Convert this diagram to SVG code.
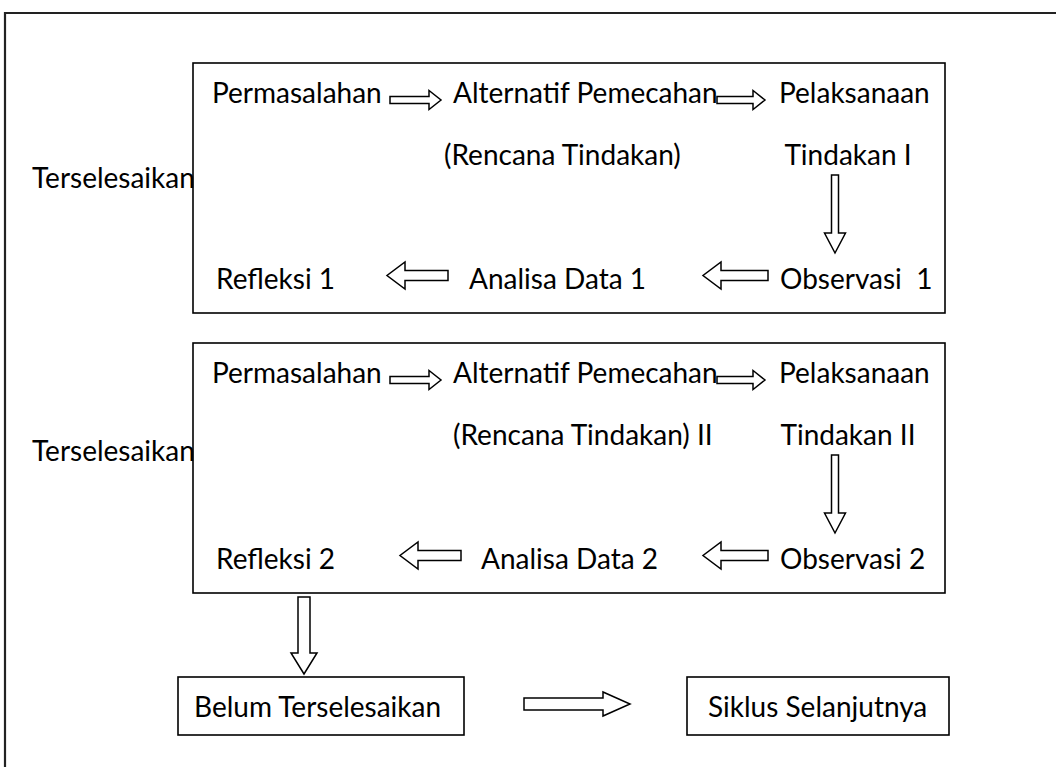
<svg xmlns="http://www.w3.org/2000/svg" width="1056" height="767" viewBox="0 0 1056 767">
<style>
text{font-family:Lato,"Liberation Sans",sans-serif;font-size:28px;fill:#000}
.box{fill:none;stroke:#000;stroke-width:1.6}
.arr{fill:#fff;stroke:#000;stroke-width:1.5;stroke-linejoin:miter}
</style>
<rect width="1056" height="767" fill="#fff"/>
<path d="M5,767 V13 H1056" fill="none" stroke="#222" stroke-width="2.2"/>
<g id="cycle1">
<rect class="box" x="193" y="63" width="752" height="250"/>
<text x="212" y="103">Permasalahan</text>
<text x="453" y="103">Alternatif Pemecahan</text>
<text x="779" y="103">Pelaksanaan</text>
<text x="444" y="165">(Rencana Tindakan)</text>
<text x="848" y="165" text-anchor="middle">Tindakan I</text>
<text x="216" y="289">Refleksi 1</text>
<text x="469" y="289">Analisa Data 1</text>
<text x="780" y="289" xml:space="preserve">Observasi  1</text>
</g>
<g id="cycle2">
<rect class="box" x="193" y="343" width="752" height="250"/>
<text x="212" y="383">Permasalahan</text>
<text x="453" y="383">Alternatif Pemecahan</text>
<text x="779" y="383">Pelaksanaan</text>
<text x="453" y="445">(Rencana Tindakan) II</text>
<text x="848" y="445" text-anchor="middle">Tindakan II</text>
<text x="216" y="569">Refleksi 2</text>
<text x="481" y="569">Analisa Data 2</text>
<text x="780" y="569">Observasi 2</text>
</g>
<g id="label1"><text x="32" y="188">Terselesaikan</text></g>
<g id="label2"><text x="32" y="461">Terselesaikan</text></g>
<g id="belum">
<rect class="box" x="178" y="677" width="286" height="58"/>
<text x="194" y="717">Belum Terselesaikan</text>
</g>
<g id="siklus">
<rect class="box" x="687" y="677" width="262" height="58"/>
<text x="708" y="717">Siklus Selanjutnya</text>
</g>
<g id="connectors">
<path class="arr" d="M390,96.5 H429 V90.5 L441,100 L429,109.5 V103.5 H390 Z"/>
<path class="arr" d="M717,96.5 H753 V90.5 L765,100 L753,109.5 V103.5 H717 Z"/>
<path class="arr" d="M831.5,175 H838.5 V233 H845.5 L835,253 L824.5,233 H831.5 Z"/>
<path class="arr" d="M448,270.5 H405 V262 L387,275.5 L405,289 V280.5 H448 Z"/>
<path class="arr" d="M768,270.5 H721 V262 L703,275.5 L721,289 V280.5 H768 Z"/>
<path class="arr" d="M390,376.5 H429 V370.5 L441,380 L429,389.5 V383.5 H390 Z"/>
<path class="arr" d="M717,376.5 H753 V370.5 L765,380 L753,389.5 V383.5 H717 Z"/>
<path class="arr" d="M831.5,455 H838.5 V513 H845.5 L835,533 L824.5,513 H831.5 Z"/>
<path class="arr" d="M461,550.5 H418 V542 L400,555.5 L418,569 V560.5 H461 Z"/>
<path class="arr" d="M768,550.5 H721 V542 L703,555.5 L721,569 V560.5 H768 Z"/>
<path class="arr" d="M298,597 H310 V653 H317 L304,674 L291,653 H298 Z"/>
<path class="arr" d="M524,698 H603 V692 L630,704 L603,716 V710 H524 Z"/>
</g>
</svg>
